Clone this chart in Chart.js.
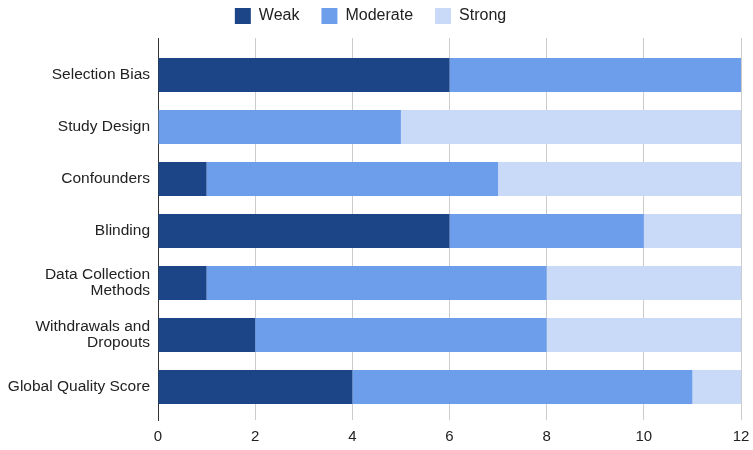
<!DOCTYPE html>
<html>
<head>
<meta charset="utf-8">
<script src="https://cdn.jsdelivr.net/npm/chart.js@4"></script>
<style>
  html, body { margin: 0; padding: 0; background: #fff; }
  #wrap { width: 753px; height: 450px; }
</style>
</head>
<body>
<div id="wrap"><canvas id="myChart" width="753" height="450"></canvas></div>
<script>
var categories = [
    'Selection Bias',
    'Study Design',
    'Confounders',
    'Blinding',
    ['Data Collection', 'Methods'],
    ['Withdrawals and', 'Dropouts'],
    'Global Quality Score'
];
var weak = [6, 0, 1, 6, 1, 2, 4];
var moderate = [6, 5, 6, 4, 7, 6, 7];
var strong = [0, 7, 5, 2, 4, 4, 1];
var xTicks = [0, 2, 4, 6, 8, 10, 12];

var font = "Arial, 'Liberation Sans', sans-serif";

// bars sit on a numeric y axis so the empty space above/below matches
function points(values) {
    return values.map(function (v, i) { return { x: v, y: i }; });
}

// fixed legend height so the plot starts where the reference does
var legendHeight = {
    id: 'legendHeight',
    afterInit: function (chart) {
        var fit = chart.legend.fit;
        chart.legend.fit = function () {
            fit.call(this);
            this.height = 52;
        };
    }
};

function createChart() {
    var ctx = document.getElementById('myChart').getContext('2d');
    new Chart(ctx, {
        type: 'bar',
        data: {
            datasets: [
                { label: 'Weak', data: points(weak), backgroundColor: '#1c4587' },
                { label: 'Moderate', data: points(moderate), backgroundColor: '#6d9eeb' },
                { label: 'Strong', data: points(strong), backgroundColor: '#c9daf8' }
            ]
        },
        plugins: [legendHeight],
        options: {
            indexAxis: 'y',
            responsive: false,
            animation: false,
            layout: { padding: { left: 0, right: 12, top: -14, bottom: 0 } },
            datasets: { bar: { categoryPercentage: 0.655, barPercentage: 1.0 } },
            plugins: {
                legend: {
                    position: 'top',
                    labels: {
                        boxWidth: 16,
                        boxHeight: 16,
                        padding: 22,
                        color: '#222',
                        font: { family: font, size: 16 }
                    }
                },
                tooltip: { enabled: false }
            },
            scales: {
                x: {
                    stacked: true,
                    min: 0,
                    max: 12,
                    afterBuildTicks: function (scale) {
                        scale.ticks = xTicks.map(function (v) { return { value: v }; });
                    },
                    afterFit: function (scale) {
                        scale.height = 30;
                        scale.paddingLeft = 0;
                        scale.paddingRight = 0;
                    },
                    grid: {
                        color: function (c) { return c.tick && c.tick.value === 0 ? '#333' : '#cccccc'; },
                        drawTicks: false
                    },
                    border: { display: false },
                    ticks: { color: '#222', padding: 8, font: { family: font, size: 15 } }
                },
                y: {
                    type: 'linear',
                    stacked: true,
                    reverse: true,
                    offset: false,
                    bounds: 'data',
                    min: -0.71,
                    max: 6.635,
                    afterBuildTicks: function (scale) {
                        scale.ticks = categories.map(function (c, i) { return { value: i }; });
                    },
                    grid: { display: false, drawTicks: false, offset: false },
                    border: { display: true, color: '#333' },
                    ticks: {
                        color: '#222',
                        padding: 8,
                        font: { family: font, size: 15.5, lineHeight: 1.05 },
                        callback: function (v) { return categories[v]; }
                    },
                    afterFit: function (scale) { scale.width = 158; }
                }
            }
        }
    });
}
createChart();
</script>
</body>
</html>
